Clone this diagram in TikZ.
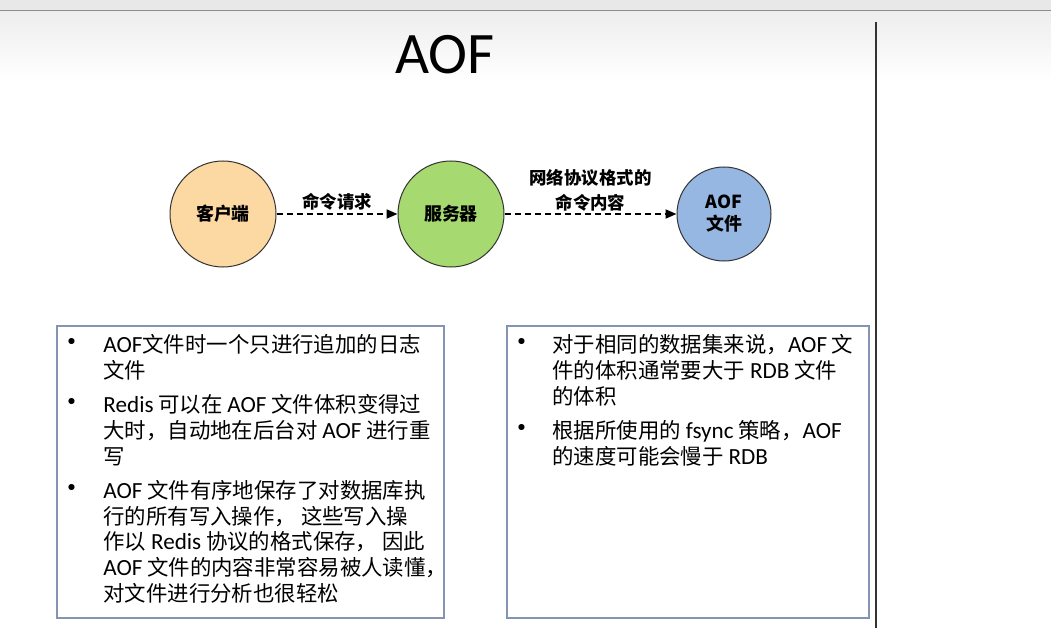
\documentclass[tikz,border=0pt]{standalone}
\usepackage{fontspec}
\setmainfont{Noto Sans CJK SC}
\newfontfamily\titlefont{Carlito}
\newfontfamily\latinfont[Scale=1.08]{Carlito}
\newcommand{\en}[1]{{\latinfont #1}}
\newcommand{\dotmark}{\hspace*{-7bp}\scalebox{1.35}{\textbullet}}
\usetikzlibrary{positioning,arrows.meta}
\definecolor{clientfill}{HTML}{FCD8A3}
\definecolor{serverfill}{HTML}{A6D96F}
\definecolor{filefill}{HTML}{95B7E2}
\definecolor{boxline}{HTML}{8494B2}

\begin{document}
\begin{tikzpicture}[x=1bp,y=-1bp,
  endpoint/.style={circle,draw=black!80,line width=1bp,minimum size=106bp,inner sep=0pt,
    font=\fontsize{18}{22}\selectfont\bfseries,align=center},
  flow/.style={draw,line width=2bp,dash pattern=on 6bp off 4bp,-{Triangle[length=11bp,width=9bp]}},
  flowlabel/.style={inner sep=0pt,font=\fontsize{17.5}{25}\selectfont\bfseries,align=center},
  infobox/.style={draw=boxline,line width=1.5bp,minimum height=292bp,inner sep=0pt},
  listtext/.style={inner sep=0pt,anchor=north west,font=\fontsize{21.5}{26}\selectfont}
]
\useasboundingbox (0,0) rectangle (1051,642);
% slide background
\fill[white] (0,0) rectangle (1051,642);
\fill[black!9] (0,0) rectangle (1051,10);
\shade[top color=black!7,bottom color=white] (0,11) rectangle (1051,80);
\draw[black!45,line width=1.5bp] (0,10.5) -- (1051,10.5);
\draw[black!80,line width=2bp] (876,22) -- (876,628);

\node[font=\titlefont\fontsize{59}{60}\selectfont] (title) at (445,55) {AOF};

% flow
\node[endpoint,fill=clientfill] (client) at (223,214) {客户端};
\node[endpoint,fill=serverfill] (server) at (451,214) {服务器};
\node[endpoint,fill=filefill,minimum size=94bp] (aoffile) at (724,214) {AOF\\文件};
\draw[flow] (client) -- node[flowlabel,above=3bp] (reqlabel) {命令请求} (server);
\draw[flow] (server) -- node[flowlabel,above=2bp] (protolabel) {网络协议格式的\\命令内容} (aoffile);

% notes
\node[infobox,minimum width=387bp] (leftbox) at (250.5,472) {};
\node[infobox,minimum width=362bp] (rightbox) at (688,472) {};
\node[listtext] (leftlist) at ([xshift=8bp,yshift=-9bp]leftbox.north west) {%
  \begin{tabular}{@{}p{39bp}@{}l@{}}
  \dotmark & \en{AOF}文件时一个只进行追加的日志\\
           & 文件\\[8bp]
  \dotmark & \en{Redis} 可以在 \en{AOF} 文件体积变得过\\
           & 大时，自动地在后台对 \en{AOF} 进行重\\
           & 写\\[8bp]
  \dotmark & \en{AOF} 文件有序地保存了对数据库执\\
           & 行的所有写入操作， 这些写入操\\
           & 作以 \en{Redis} 协议的格式保存， 因此\\
           & \en{AOF} 文件的内容非常容易被人读懂，\\
           & 对文件进行分析也很轻松
  \end{tabular}};
\node[listtext] (rightlist) at ([xshift=8bp,yshift=-9bp]rightbox.north west) {%
  \begin{tabular}{@{}p{38bp}@{}l@{}}
  \dotmark & 对于相同的数据集来说，\en{AOF} 文\\
           & 件的体积通常要大于 \en{RDB} 文件\\
           & 的体积\\[8bp]
  \dotmark & 根据所使用的 \en{fsync} 策略，\en{AOF}\\
           & 的速度可能会慢于 \en{RDB}
  \end{tabular}};
\end{tikzpicture}
\end{document}
